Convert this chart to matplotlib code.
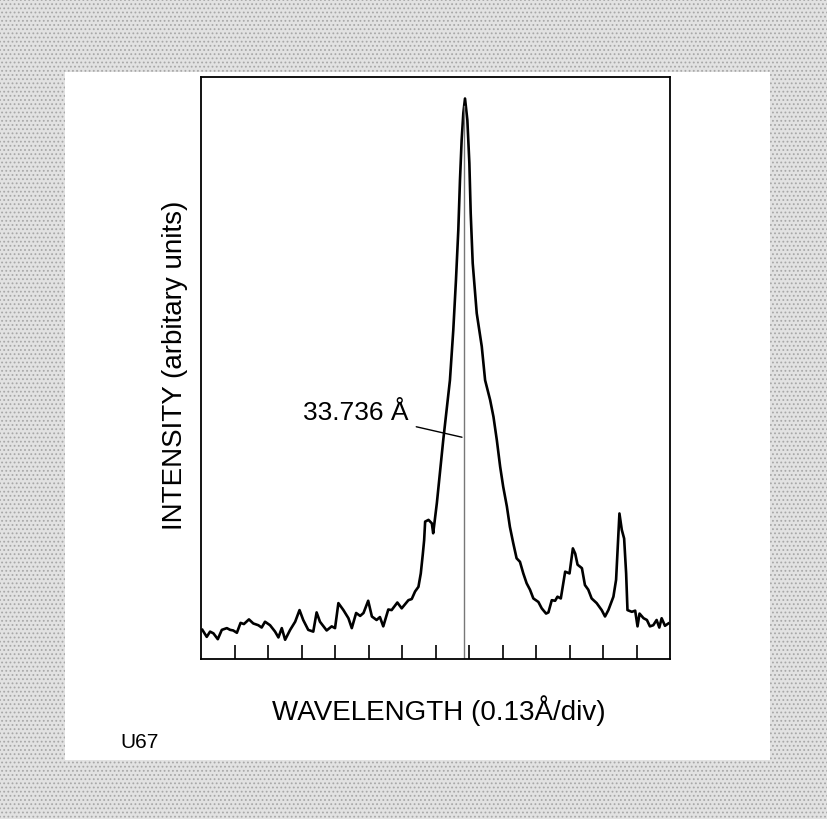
## Spectrum around 33.736 A, redrawn from a scanned figure
import matplotlib
matplotlib.use('Agg')
import matplotlib.pyplot as plt
from matplotlib.patches import Rectangle

plt.rcParams['font.family'] = ['Liberation Sans', 'DejaVu Sans']

## Values (x in divisions, y as fraction of box height)
wl = [0.04, 0.17, 0.27, 0.37, 0.50, 0.62, 0.77, 0.87, 0.96, 1.07, 1.18, 1.28, 1.43,
      1.56, 1.71, 1.81, 1.91, 2.06, 2.21, 2.31, 2.41, 2.51, 2.66, 2.81, 2.94, 3.05,
      3.20, 3.35, 3.45, 3.55, 3.75, 3.90, 4.00, 4.10, 4.25, 4.40, 4.50, 4.63, 4.75,
      4.85, 4.99, 5.10, 5.24, 5.34, 5.44, 5.59, 5.69, 5.86, 5.99, 6.19, 6.29, 6.39,
      6.49, 6.56, 6.62, 6.66, 6.69, 6.79, 6.89, 6.93, 7.04, 7.13, 7.23, 7.33, 7.43,
      7.53, 7.61, 7.68, 7.73, 7.78, 7.83, 7.88, 7.95, 8.01, 8.05, 8.11, 8.23, 8.38,
      8.48, 8.63, 8.73, 8.83, 8.93, 9.02, 9.13, 9.22, 9.32, 9.42, 9.52, 9.62, 9.72,
      9.82, 9.92, 10.07, 10.17, 10.30, 10.37, 10.47, 10.57, 10.64, 10.74, 10.87,
      11.00, 11.10, 11.17, 11.24, 11.37, 11.46, 11.56, 11.66, 11.81, 11.96, 12.06,
      12.16, 12.31, 12.39, 12.43, 12.49, 12.56, 12.63, 12.69, 12.73, 12.86, 12.96,
      13.03, 13.09, 13.21, 13.31, 13.40, 13.50, 13.60, 13.68, 13.75, 13.85, 13.95]
inten = [0.050, 0.038, 0.047, 0.044, 0.034, 0.050, 0.053, 0.050, 0.049, 0.045, 0.062,
         0.060, 0.068, 0.061, 0.058, 0.054, 0.064, 0.058, 0.047, 0.037, 0.053, 0.033,
         0.050, 0.064, 0.084, 0.067, 0.050, 0.047, 0.080, 0.064, 0.049, 0.056, 0.053,
         0.096, 0.084, 0.070, 0.053, 0.079, 0.074, 0.079, 0.100, 0.073, 0.067, 0.072,
         0.056, 0.085, 0.084, 0.097, 0.087, 0.101, 0.103, 0.116, 0.124, 0.147, 0.180,
         0.204, 0.236, 0.239, 0.233, 0.216, 0.268, 0.319, 0.376, 0.428, 0.479, 0.565,
         0.651, 0.737, 0.823, 0.892, 0.938, 0.963, 0.926, 0.852, 0.766, 0.680, 0.594,
         0.537, 0.479, 0.445, 0.416, 0.376, 0.330, 0.296, 0.262, 0.227, 0.199, 0.173,
         0.167, 0.147, 0.130, 0.119, 0.104, 0.098, 0.087, 0.078, 0.080, 0.101, 0.100,
         0.107, 0.104, 0.150, 0.147, 0.190, 0.181, 0.162, 0.156, 0.127, 0.119, 0.104,
         0.096, 0.084, 0.073, 0.084, 0.107, 0.136, 0.181, 0.250, 0.222, 0.207, 0.147,
         0.084, 0.081, 0.083, 0.056, 0.078, 0.070, 0.067, 0.056, 0.058, 0.067, 0.054,
         0.070, 0.057, 0.061]

line_pos = 7.85          # marked wavelength
line_label = '33.736 Å'
div_ticks = list(range(1, 14))

## Figure with the stippled grey frame
fig = plt.figure(figsize=(8.28, 8.19), dpi=100)
plt.rcParams['hatch.linewidth'] = 0.8
fig.patches.append(Rectangle((0, 0), 1, 1, transform=fig.transFigure,
                             facecolor='#e2e2e2', edgecolor='#a8a8a8', hatch='....',
                             lw=0, zorder=0))
fig.patches.append(Rectangle((0.0785, 0.072), 0.8514, 0.840, transform=fig.transFigure,
                             facecolor='white', edgecolor='none', zorder=1))

ax = fig.add_axes([0.2428, 0.1954, 0.5664, 0.7106])
ax.set_zorder(2)
ax.plot(wl, inten, color='black', lw=1.9)
ax.plot([line_pos, line_pos], [0, 0.95], color='#777777', lw=1.0)
ax.annotate(line_label, xy=(7.79, 0.381), xytext=(6.18, 0.423),
            ha='right', va='center', fontsize=19,
            arrowprops=dict(arrowstyle='-', color='black', lw=1.0,
                            shrinkA=4, shrinkB=0))

ax.set_xlim(0, 14)
ax.set_ylim(0, 1)
ax.set_xticks(div_ticks)
ax.set_xticklabels([])
ax.set_yticks([])
ax.tick_params(axis='x', direction='in', length=10, width=1.2, color='black')
for s in ax.spines.values():
    s.set_linewidth(1.3)

fig.text(0.530, 0.132, 'WAVELENGTH (0.13Å/div)', ha='center', va='center', fontsize=20)
fig.text(0.211, 0.554, 'INTENSITY (arbitary units)', rotation=90,
         ha='center', va='center', fontsize=20)
fig.text(0.145, 0.094, 'U67', ha='left', va='center', fontsize=15)

fig.savefig('out.png', dpi=100)
